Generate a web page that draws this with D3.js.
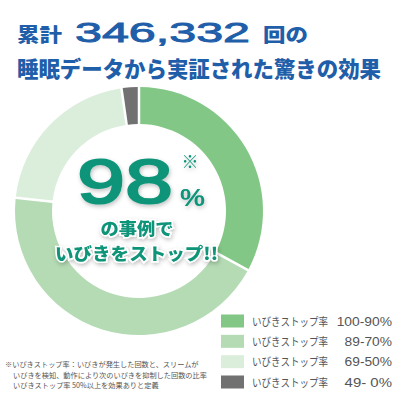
<!DOCTYPE html>
<html><head><meta charset="utf-8">
<script src="https://cdn.jsdelivr.net/npm/d3@7"></script>
<style>
html,body{margin:0;padding:0;background:#fff;}
svg{display:block;}
</style></head>
<body>
<svg id="chart" width="400" height="400"></svg>
<script>
// ---- data ----
const legendLabel = "いびきストップ率";
const ranges = ["100-90%", "89-70%", "69-50%", "49- 0%"];
const values = [33, 44, 21, 2];
const colors = ["#83c786", "#b4dbb4", "#dbeedb", "#717171"];
const titleLine1 = ["累計", "346,332", "回の"];
const titleLine2 = "睡眠データから実証された驚きの効果";
const bigNumber = "98";
const bigLines = ["の事例で", "いびきをストップ!!"];
const footnote = [
  "※いびきストップ率：いびきが発生した回数と、スリームが",
  "いびきを検知、動作により次のいびきを抑制した回数の比率",
  "いびきストップ率 50%以上を効果ありと定義"
];

const svg = d3.select("#chart");
const JP = "'Noto Sans CJK JP', 'Noto Sans', sans-serif";
const NUM = "'Liberation Sans', Arial, sans-serif";
const blue = "#1f5ea9";
const teal = "#0e9479";

const defs = svg.append("defs");
const f = defs.append("filter").attr("id", "sh").attr("x", "-20%").attr("y", "-20%").attr("width", "140%").attr("height", "140%");
f.append("feDropShadow").attr("dx", 1).attr("dy", 2).attr("stdDeviation", 2).attr("flood-color", "#000").attr("flood-opacity", 0.25);

// ---- title ----
svg.append("text").attr("x", 17).attr("y", 42).attr("font-family", JP).attr("font-weight", 900)
  .attr("font-size", 19).attr("fill", blue).attr("textLength", 45).attr("lengthAdjust", "spacingAndGlyphs").text(titleLine1[0]);
svg.append("text").attr("x", 75).attr("y", 42).attr("font-family", NUM).attr("font-weight", 400)
  .attr("font-size", 28.5).attr("fill", blue).attr("stroke", blue).attr("stroke-width", 0.9)
  .attr("textLength", 175).attr("lengthAdjust", "spacingAndGlyphs").text(titleLine1[1]);
svg.append("text").attr("x", 263).attr("y", 42).attr("font-family", JP).attr("font-weight", 900)
  .attr("font-size", 19).attr("fill", blue).attr("textLength", 45).attr("lengthAdjust", "spacingAndGlyphs").text(titleLine1[2]);
svg.append("text").attr("x", 17).attr("y", 77).attr("font-family", JP).attr("font-weight", 900)
  .attr("font-size", 21.5).attr("fill", blue).attr("textLength", 364).attr("lengthAdjust", "spacingAndGlyphs").text(titleLine2);

// ---- donut ----
const cx = 139, cy = 211, rOut = 124, rIn = 87;
const pie = d3.pie().sort(null).value(d => d).padAngle(0.018);
const arc = d3.arc().innerRadius(rIn).outerRadius(rOut).padRadius(140);
const g = svg.append("g").attr("transform", `translate(${cx},${cy})`);
g.selectAll("path").data(pie(values)).join("path")
  .attr("d", arc).attr("fill", (d, i) => colors[i]);

// ---- center text ----
const ct = svg.append("g").attr("filter", "url(#sh)");
ct.append("text").attr("x", 77).attr("y", 203).attr("font-family", NUM).attr("font-weight", 400)
  .attr("font-size", 63).attr("fill", teal).attr("stroke", teal).attr("stroke-width", 2)
  .attr("textLength", 96).attr("lengthAdjust", "spacingAndGlyphs").text(bigNumber);
ct.append("text").attr("x", 180).attr("y", 206).attr("font-family", NUM).attr("font-weight", 700)
  .attr("font-size", 23).attr("fill", teal).attr("textLength", 25).attr("lengthAdjust", "spacingAndGlyphs").text("%");
ct.append("text").attr("x", 190).attr("y", 168).attr("text-anchor", "middle").attr("font-family", JP).attr("font-weight", 400)
  .attr("font-size", 17).attr("fill", teal).text("※");
ct.append("text").attr("x", 137).attr("y", 235).attr("text-anchor", "middle").attr("font-family", JP).attr("font-weight", 900)
  .attr("font-size", 17).attr("fill", teal).attr("stroke", "#fff").attr("stroke-width", 3).attr("paint-order", "stroke")
  .attr("textLength", 73).attr("lengthAdjust", "spacingAndGlyphs").text(bigLines[0]);
ct.append("text").attr("x", 55).attr("y", 260).attr("font-family", JP).attr("font-weight", 900)
  .attr("font-size", 17).attr("fill", teal).attr("stroke", "#fff").attr("stroke-width", 3).attr("paint-order", "stroke")
  .attr("textLength", 163).attr("lengthAdjust", "spacingAndGlyphs").text(bigLines[1]);

// ---- legend ----
const lg = svg.append("g");
const rowY = d3.scalePoint().domain(d3.range(ranges.length)).range([321, 382]);
ranges.forEach((r, i) => {
  const y = rowY(i);
  lg.append("rect").attr("x", 221).attr("y", y - 6.5).attr("width", 23).attr("height", 13).attr("fill", colors[i]);
  lg.append("text").attr("x", 252).attr("y", y + 4.5).attr("font-family", JP).attr("font-weight", 400)
    .attr("font-size", 11).attr("fill", "#555").attr("textLength", 76).attr("lengthAdjust", "spacingAndGlyphs").text(legendLabel);
  lg.append("text").attr("x", 392).attr("y", y + 4.5).attr("text-anchor", "end").attr("font-family", NUM)
    .attr("font-size", 12.5).attr("fill", "#555")
    .attr("textLength", r.length * 7.9).attr("lengthAdjust", "spacingAndGlyphs").text(r);
});

// ---- footnote ----
const fy = [367, 378, 388];
const fx = [5, 13, 13];
footnote.forEach((t, i) => {
  svg.append("text").attr("x", fx[i]).attr("y", fy[i]).attr("font-family", JP).attr("font-size", 7.2)
    .attr("fill", "#555").text(t);
});
</script>
</body></html>
